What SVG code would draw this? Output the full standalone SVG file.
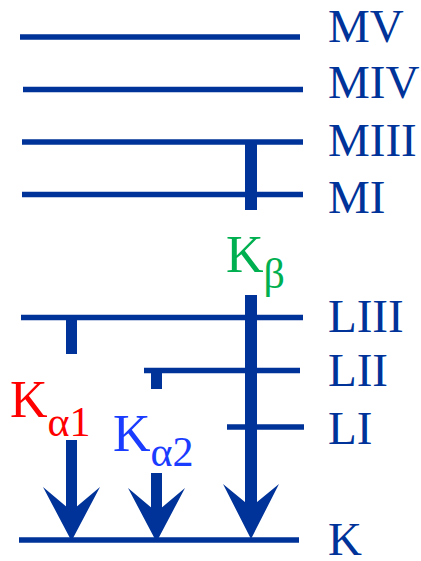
<svg xmlns="http://www.w3.org/2000/svg" width="421" height="561" viewBox="0 0 421 561">
<style>
.lvl{stroke:#003399;stroke-width:5.5;fill:none}
.bar{fill:#003399}
text{font-family:'Liberation Serif','Times New Roman',serif}
.lab{font-size:47px;fill:#003399}
.k{font-size:52px}
.sub{font-size:42px}
</style>
<rect width="421" height="561" fill="#fff"/>
<g id="levels">
<g id="MV"><line class="lvl" x1="20" y1="37" x2="300" y2="37"/><text class="lab" x="328" y="42">MV</text></g>
<g id="MIV"><line class="lvl" x1="23" y1="89.5" x2="303" y2="89.5"/><text class="lab" x="328" y="98">MIV</text></g>
<g id="MIII"><line class="lvl" x1="22" y1="142" x2="303" y2="142"/><text class="lab" x="328" y="156">MIII</text></g>
<g id="MI"><line class="lvl" x1="22" y1="194.5" x2="303" y2="194.5"/><text class="lab" x="328" y="213">MI</text></g>
<g id="LIII"><line class="lvl" x1="21" y1="317.5" x2="303" y2="317.5"/><text class="lab" x="328" y="332">LIII</text></g>
<g id="LII"><line class="lvl" x1="144" y1="370.5" x2="300" y2="370.5"/><text class="lab" x="328" y="386">LII</text></g>
<g id="LI"><line class="lvl" x1="227" y1="427" x2="304" y2="427"/><text class="lab" x="328" y="444">LI</text></g>
<g id="K"><line class="lvl" x1="19" y1="540" x2="299" y2="540"/><text class="lab" x="328" y="555">K</text></g>
</g>
<g id="connectors">
<g id="Ka1">
<rect class="bar" x="66" y="320" width="11" height="34"/>
<rect class="bar" x="66" y="440" width="11" height="75"/>
<polygon class="bar" points="43,487 71.5,511 100,487 71.5,541"/>
</g>
<g id="Ka2">
<rect class="bar" x="151" y="373" width="11" height="16"/>
<rect class="bar" x="151" y="473" width="11" height="42"/>
<polygon class="bar" points="128,488 156.5,512 185,488 156.5,542"/>
</g>
<g id="Kb">
<rect class="bar" x="245" y="142" width="12" height="68"/>
<rect class="bar" x="245" y="295" width="12" height="215"/>
<polygon class="bar" points="223,484 251,507 279,484 251,539"/>
</g>
</g>
<g id="labels">
<text class="k" x="10" y="417" fill="#ff0000">K<tspan class="sub" dy="19">α1</tspan></text>
<text class="k" x="113" y="451" fill="#1a3cff">K<tspan class="sub" dy="15">α2</tspan></text>
<text class="k" x="226" y="272" fill="#00b050">K<tspan class="sub" dy="16" font-size="39">β</tspan></text>
</g>
</svg>
